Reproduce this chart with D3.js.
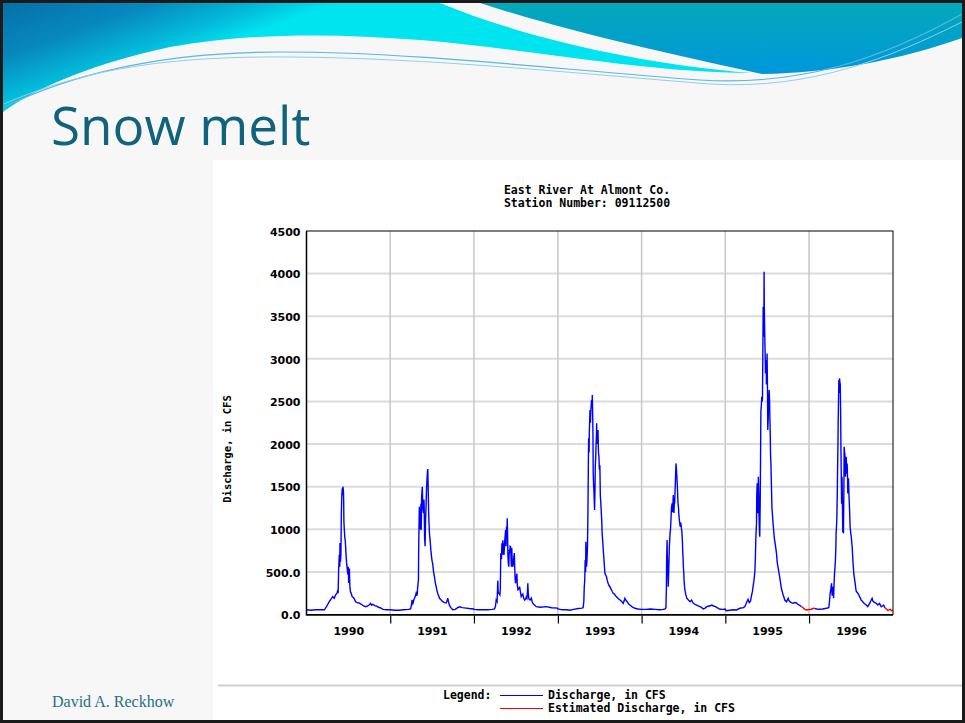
<!DOCTYPE html>
<html lang="en">
<head>
<meta charset="UTF-8">
<title>Snow melt</title>
<script src="https://d3js.org/d3.v7.min.js"></script>
<style>
  body { margin: 0; background: #fff; }
  svg { display: block; }
  .mono { font-family: "DejaVu Sans Mono", monospace; font-weight: bold; }
  .tick text { font-family: "DejaVu Sans", sans-serif; font-weight: bold; font-size: 11px; fill: #000; }
</style>
</head>
<body>
<script>
// Daily discharge, [day of year, cfs]
const years = [1990, 1991, 1992, 1993, 1994, 1995, 1996];

const flow1990 = [[1,55],[20,50],[40,55],[60,55],[79,55],[90,100],[100,150],[108,180],[115,209],[122,190],[128,230],[134,249],[137,287],[139,250],[141,522],[144,700],[146,560],[147,840],[149,620],[151,700],[153,1200],[155,1400],[157,1480],[159,1400],[160,1500],[162,1450],[163,1350],[164,1100],[166,990],[168,900],[170,870],[173,720],[176,600],[179,520],[181,470],[183,560],[185,370],[188,540],[190,330],[193,260],[196,250],[200,210],[205,200],[210,180],[215,150],[222,140],[230,135],[240,120],[250,100],[260,92],[268,100],[275,115],[280,130],[285,110],[290,120],[298,105],[305,100],[315,85],[326,75],[335,60],[348,55],[365,55]];

const flow1991 = [[1,55],[20,50],[40,50],[60,55],[80,60],[90,65],[94,120],[96,170],[100,130],[105,180],[110,210],[114,250],[118,220],[121,330],[124,400],[125,760],[127,1100],[128,1265],[130,1000],[131,1190],[133,1050],[135,1300],[136,990],[138,1380],[140,1450],[141,1500],[143,1250],[146,1190],[148,1350],[149,1265],[151,900],[153,800],[155,1100],[157,1250],[159,1450],[162,1620],[164,1700],[165,1700],[167,1400],[169,1150],[172,950],[175,870],[178,760],[181,680],[184,620],[186,600],[190,500],[194,440],[197,380],[201,330],[205,280],[208,250],[212,220],[216,190],[223,170],[230,150],[238,140],[245,135],[250,170],[252,193],[255,150],[259,110],[265,80],[274,55],[285,60],[295,80],[303,90],[315,80],[332,75],[345,70],[365,65]];

const flow1992 = [[1,60],[20,55],[40,55],[60,55],[80,60],[91,65],[95,100],[98,170],[102,150],[105,400],[107,250],[110,250],[114,230],[116,300],[118,720],[121,650],[123,835],[125,700],[127,870],[130,760],[132,700],[135,850],[139,990],[141,800],[143,1030],[145,950],[146,1130],[148,900],[149,700],[151,600],[153,560],[155,760],[157,720],[159,800],[161,795],[163,650],[164,560],[166,780],[168,600],[171,560],[174,650],[177,720],[180,450],[182,366],[185,420],[188,480],[190,350],[193,290],[197,300],[200,326],[204,260],[207,210],[211,230],[214,240],[218,190],[222,170],[226,180],[229,205],[232,190],[234,250],[236,366],[238,240],[241,180],[246,170],[251,193],[255,150],[258,130],[265,111],[273,92],[290,85],[316,92],[340,80],[365,75]];

const flow1993 = [[1,65],[20,55],[40,55],[53,50],[70,60],[90,70],[105,75],[111,80],[114,150],[116,326],[118,400],[120,640],[122,500],[123,854],[125,700],[126,561],[128,650],[130,795],[132,1200],[134,1800],[135,2067],[137,1900],[138,2125],[140,2300],[141,2400],[143,2250],[144,2350],[146,2450],[148,2516],[150,2450],[151,2575],[153,2300],[154,2100],[155,1656],[157,1500],[158,1460],[160,1300],[161,1226],[163,1500],[164,1734],[166,1850],[167,1968],[169,2100],[170,2243],[171,2000],[172,2050],[174,2100],[176,2164],[177,2000],[178,1900],[180,1851],[182,1700],[184,1750],[186,1400],[189,1265],[192,1108],[194,950],[196,874],[199,750],[202,640],[204,560],[206,483],[210,460],[213,443],[216,400],[220,366],[224,340],[228,326],[232,300],[235,287],[238,270],[242,249],[248,240],[252,220],[257,209],[265,185],[272,170],[280,150],[286,131],[290,160],[293,190],[297,170],[303,150],[309,125],[315,111],[325,90],[337,73],[350,65],[365,60]];

const flow1994 = [[1,60],[20,60],[40,65],[60,60],[80,55],[95,60],[103,65],[107,80],[109,300],[110,600],[112,874],[113,700],[115,561],[117,326],[118,400],[120,600],[122,800],[125,952],[127,1000],[129,1108],[131,1250],[134,1304],[136,1200],[137,1250],[139,1402],[141,1300],[142,1190],[144,1350],[145,1300],[147,1450],[148,1539],[150,1700],[151,1773],[153,1700],[154,1650],[156,1550],[157,1500],[159,1350],[160,1300],[162,1250],[163,1187],[166,1100],[169,1030],[171,1080],[173,1050],[175,1000],[177,956],[179,850],[180,757],[182,650],[183,561],[185,480],[186,404],[188,330],[190,287],[194,230],[198,190],[202,180],[205,170],[209,160],[212,150],[216,160],[219,170],[223,145],[227,131],[234,120],[241,111],[248,100],[256,92],[263,80],[270,65],[278,75],[285,92],[295,100],[303,105],[307,111],[314,100],[321,95],[330,80],[343,61],[355,60],[365,65]];

const flow1995 = [[1,55],[6,45],[20,50],[35,55],[50,53],[64,73],[80,80],[86,92],[95,150],[100,178],[105,140],[111,160],[115,220],[119,268],[122,330],[125,385],[128,450],[130,522],[132,659],[134,900],[137,1070],[138,1400],[140,1539],[141,1300],[143,1187],[144,1400],[145,1616],[147,1400],[148,1147],[150,950],[151,913],[153,1300],[154,1616],[156,2379],[158,2450],[160,2555],[162,2500],[163,2555],[165,3200],[166,3610],[167,3400],[169,3258],[170,4021],[171,3600],[173,3258],[175,3000],[176,2829],[178,2950],[179,2985],[180,2700],[182,2900],[183,3063],[185,2600],[186,2164],[188,2300],[189,2437],[191,2550],[192,2633],[194,2500],[195,2320],[197,2100],[198,1890],[200,1750],[201,1616],[203,1400],[204,1265],[207,1150],[209,1070],[212,980],[214,913],[216,870],[218,835],[221,780],[224,718],[226,650],[228,600],[231,550],[234,502],[238,440],[241,385],[244,330],[247,287],[250,260],[253,229],[257,200],[260,170],[264,160],[268,150],[272,175],[275,190],[278,165],[282,150],[289,140],[296,131],[303,140],[311,135],[317,120],[323,111],[333,92]];

const flow1996 = [[25,70],[35,65],[47,61],[60,65],[76,73],[87,80],[90,150],[93,249],[96,300],[99,366],[101,250],[102,220],[105,326],[107,250],[108,190],[110,350],[112,483],[114,550],[116,640],[118,800],[119,952],[121,1050],[122,1108],[124,1400],[125,1616],[127,2000],[128,2243],[130,2600],[131,2751],[132,2600],[134,2771],[136,2700],[137,2712],[139,2300],[140,1968],[142,1500],[143,1300],[144,1616],[145,1600],[147,1200],[148,991],[150,1000],[151,952],[153,1500],[154,1968],[156,1900],[157,1890],[159,1700],[160,1616],[162,1800],[163,1851],[165,1700],[166,1656],[167,1773],[169,1600],[170,1421],[172,1500],[173,1600],[175,1400],[176,1343],[178,1200],[180,1030],[183,950],[185,913],[187,850],[189,795],[192,640],[194,560],[196,483],[199,420],[202,366],[205,300],[207,268],[211,260],[214,249],[218,230],[221,209],[225,190],[228,170],[232,160],[235,150],[242,130],[250,111],[257,92],[261,110],[265,131],[269,150],[272,170],[276,190],[279,160],[282,150],[288,140],[294,131],[301,111],[308,131],[316,92],[321,100],[326,111],[333,73]];

// estimated (red) stretches
const estLate1995 = [[333,92],[340,80],[347,61],[352,55],[358,53],[365,58]];
const estEarly1996 = [[1,58],[10,62],[20,73],[25,70]];
const estLate1996 = [[333,73],[340,60],[345,45],[350,55],[355,60],[360,45],[366,50]];

const yTickValues = [0, 500, 1000, 1500, 2000, 2500, 3000, 3500, 4000, 4500];
const yTickLabels = ["0.0", "500.0", "1000", "1500", "2000", "2500", "3000", "3500", "4000", "4500"];

const W = 965, H = 723;
const plot = { left: 306.5, right: 893, top: 231, bottom: 614.5 };

const svg = d3.select("body").append("svg")
    .attr("width", W)
    .attr("height", H);

const defs = svg.append("defs");
const gl = defs.append("linearGradient").attr("id", "waveLeft")
    .attr("gradientUnits", "userSpaceOnUse")
    .attr("x1", 0).attr("y1", 3).attr("x2", 40).attr("y2", 112);
gl.append("stop").attr("offset", 0).attr("stop-color", "#0670a8");
gl.append("stop").attr("offset", 0.45).attr("stop-color", "#0788bc");
gl.append("stop").attr("offset", 0.8).attr("stop-color", "#03bcdb");
gl.append("stop").attr("offset", 1).attr("stop-color", "#00e4f0");
const gr = defs.append("linearGradient").attr("id", "waveRight")
    .attr("gradientUnits", "userSpaceOnUse")
    .attr("x1", 0).attr("y1", 3).attr("x2", 0).attr("y2", 75);
gr.append("stop").attr("offset", 0).attr("stop-color", "#03a9b9");
gr.append("stop").attr("offset", 1).attr("stop-color", "#0097dc");

// slide background
svg.append("rect").attr("width", W).attr("height", H).attr("fill", "#f7f7f7");

// header waves
svg.append("path")
    .attr("d", "M3,3 H440 C525,38 640,64 752,73 C640,72 540,50 420,40 C330,33 250,33 170,47 C100,62 40,85 3,112 Z")
    .attr("fill", "url(#waveLeft)");
svg.append("path")
    .attr("d", "M480,3 H962 V38 C900,60 830,73 762,74 C690,58 575,34 480,3 Z")
    .attr("fill", "url(#waveRight)");
svg.append("path")
    .attr("d", "M4,107 C80,70 170,52 280,52 C420,52 560,70 700,80 C800,86 880,60 962,14")
    .attr("fill", "none").attr("stroke", "#5bb8dc").attr("stroke-width", 1.2);
svg.append("path")
    .attr("d", "M4,104 C90,66 180,56 290,57 C430,58 570,73 710,84 C810,90 890,58 962,22")
    .attr("fill", "none").attr("stroke", "#8fd0e6").attr("stroke-width", 1);

svg.append("text")
    .attr("x", 51).attr("y", 145)
    .style("font-family", "'Open Sans', sans-serif")
    .style("font-size", "53px")
    .attr("fill", "#10637a")
    .text("Snow melt");

svg.append("text")
    .attr("x", 52).attr("y", 707)
    .style("font-family", "'Liberation Serif', serif")
    .style("font-size", "16px")
    .attr("fill", "#227089")
    .text("David A. Reckhow");

// chart image area
svg.append("rect")
    .attr("x", 213).attr("y", 160).attr("width", 749).attr("height", 561)
    .attr("fill", "#fff");
svg.append("line")
    .attr("x1", 218).attr("x2", 962).attr("y1", 685.5).attr("y2", 685.5)
    .attr("stroke", "#cfcfcf").attr("stroke-width", 2);

// scales
const x = d3.scaleTime()
    .domain([new Date(1990, 0, 1), new Date(1997, 0, 1)])
    .range([plot.left, plot.right]);
const y = d3.scaleLinear()
    .domain([0, 4500])
    .range([plot.bottom, plot.top]);

// grid
const g = svg.append("g");
g.selectAll(".hgrid").data(yTickValues.slice(1, -1)).enter().append("line")
    .attr("x1", plot.left).attr("x2", plot.right)
    .attr("y1", d => y(d)).attr("y2", d => y(d))
    .attr("stroke", "#dcdcdc").attr("stroke-width", 2);
const yearStarts = years.slice(1).map(yr => new Date(yr, 0, 1));
g.selectAll(".vgrid").data(yearStarts).enter().append("line")
    .attr("x1", d => x(d)).attr("x2", d => x(d))
    .attr("y1", plot.top).attr("y2", plot.bottom)
    .attr("stroke", "#c8c8c8").attr("stroke-width", 1.5);

// series
const toPoints = (year, arr) => arr.map(([day, q]) => ({ date: d3.timeDay.offset(new Date(year, 0, 1), day - 1), q }));
const line = d3.line().x(d => x(d.date)).y(d => y(d.q));

const blueA = [].concat(
    toPoints(1990, flow1990), toPoints(1991, flow1991), toPoints(1992, flow1992),
    toPoints(1993, flow1993), toPoints(1994, flow1994), toPoints(1995, flow1995));
const blueB = toPoints(1996, flow1996);
const redA = toPoints(1995, estLate1995).concat(toPoints(1996, estEarly1996));
const redB = toPoints(1996, estLate1996);

[blueA, blueB].forEach(s => svg.append("path").datum(s)
    .attr("d", line).attr("fill", "none").attr("stroke", "#0000ff").attr("stroke-width", 1.4));
[redA, redB].forEach(s => svg.append("path").datum(s)
    .attr("d", line).attr("fill", "none").attr("stroke", "#ff0000").attr("stroke-width", 1.4));

// frame
svg.append("rect")
    .attr("x", plot.left).attr("y", plot.top)
    .attr("width", plot.right - plot.left).attr("height", plot.bottom - plot.top)
    .attr("fill", "none").attr("stroke", "#000").attr("stroke-width", 1);
svg.append("line").attr("x1", plot.left).attr("x2", plot.left)
    .attr("y1", plot.top).attr("y2", plot.bottom + 1).attr("stroke", "#000").attr("stroke-width", 1.5);
svg.append("line").attr("x1", plot.left).attr("x2", plot.right)
    .attr("y1", plot.bottom + 0.5).attr("y2", plot.bottom + 0.5).attr("stroke", "#000").attr("stroke-width", 1.5);

// axes
const yAxis = svg.append("g")
    .attr("transform", `translate(${plot.left},0)`)
    .call(d3.axisLeft(y).tickValues(yTickValues).tickSize(0).tickPadding(6)
        .tickFormat((d, i) => yTickLabels[i]));
yAxis.select(".domain").remove();
yAxis.selectAll(".tick text").attr("dy", "0.38em");

const xTicks = svg.append("g")
    .attr("transform", `translate(0,${plot.bottom + 1})`)
    .call(d3.axisBottom(x).tickValues(yearStarts).tickSize(8).tickFormat(""));
xTicks.select(".domain").remove();
xTicks.selectAll(".tick line").attr("stroke", "#000").attr("stroke-width", 1.2);

const midYears = years.map(yr => new Date(yr, 6, 2));
const xLabels = svg.append("g")
    .attr("transform", `translate(0,${plot.bottom + 1})`)
    .call(d3.axisBottom(x).tickValues(midYears).tickSize(0).tickPadding(12)
        .tickFormat(d3.timeFormat("%Y")));
xLabels.select(".domain").remove();

// titles
const title = svg.append("g").attr("class", "mono").style("font-size", "11.5px");
title.append("text").attr("x", 587).attr("y", 194).attr("text-anchor", "middle").text("East River At Almont Co.");
title.append("text").attr("x", 587).attr("y", 207).attr("text-anchor", "middle").text("Station Number: 09112500");

svg.append("text")
    .attr("class", "mono")
    .style("font-size", "10.5px")
    .attr("transform", "translate(231,449) rotate(-90)")
    .attr("text-anchor", "middle")
    .text("Discharge, in CFS");

// legend
const legend = svg.append("g").attr("class", "mono").style("font-size", "11.5px");
legend.append("text").attr("x", 443).attr("y", 699).text("Legend:");
legend.append("line").attr("x1", 500).attr("x2", 543).attr("y1", 695.5).attr("y2", 695.5)
    .attr("stroke", "#0000ff").attr("stroke-width", 1.2);
legend.append("text").attr("x", 548).attr("y", 699).text("Discharge, in CFS");
legend.append("line").attr("x1", 500).attr("x2", 543).attr("y1", 708.5).attr("y2", 708.5)
    .attr("stroke", "#ff0000").attr("stroke-width", 1.2);
legend.append("text").attr("x", 548).attr("y", 712).text("Estimated Discharge, in CFS");

// slide border
svg.append("rect")
    .attr("x", 1.5).attr("y", 1.5).attr("width", W - 3).attr("height", H - 3)
    .attr("fill", "none").attr("stroke", "#1a1a1a").attr("stroke-width", 3);
</script>
</body>
</html>
